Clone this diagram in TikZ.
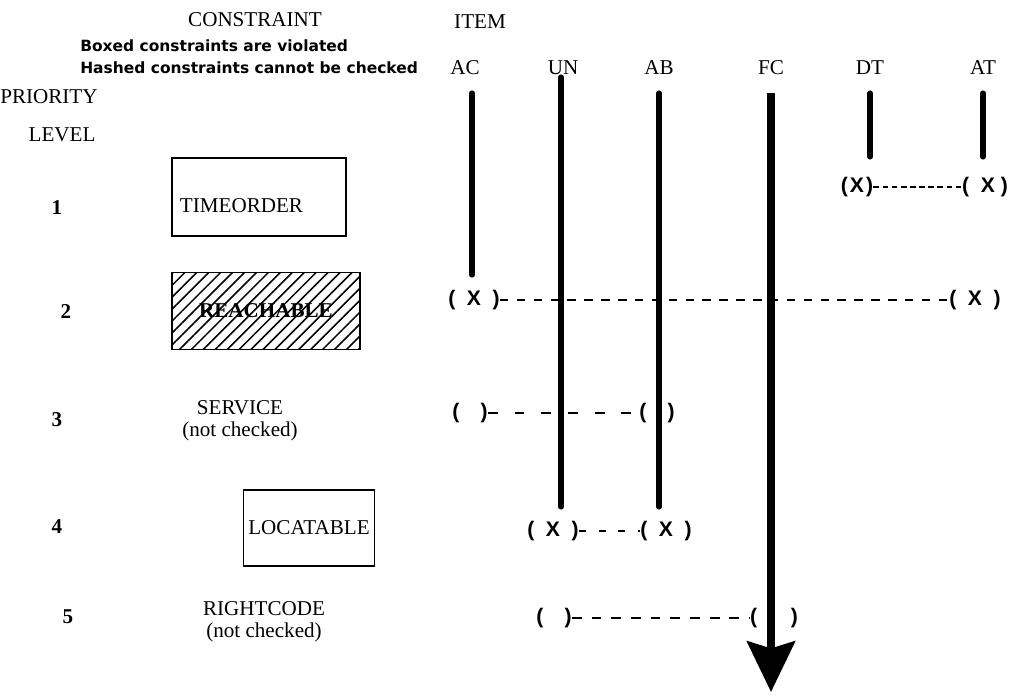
\documentclass[tikz,border=0pt]{standalone}
\usepackage{fontspec}
\setmainfont{Liberation Serif}
\newfontfamily\marksf{Liberation Sans}
\newfontfamily\notesf{DejaVu Sans}
\usetikzlibrary{arrows.meta, patterns.meta}

\begin{document}
\begin{tikzpicture}[
    x=0.025cm, y=-0.025cm,
    head/.style={font=\fontsize{15}{17}\selectfont},
    note/.style={font=\notesf\bfseries\fontsize{11}{13}\selectfont, anchor=west, inner sep=0pt},
    lvl/.style={font=\bfseries\fontsize{15}{17}\selectfont},
    cons/.style={font=\fontsize{15}{16}\selectfont, align=center},
    consbox/.style={draw, line width=1pt, minimum height=1.95cm,
                    font=\fontsize{15}{17}\selectfont},
    col/.style={line width=3.6pt, line cap=round},
    tag/.style={font=\marksf\bfseries\fontsize{15}{17}\selectfont, inner sep=0pt},
    link/.style={line width=1.4pt, dash pattern=on 6pt off 6pt},
  ]
    \useasboundingbox (0,0) rectangle (1031,696);

    % headings
    \node[head] (constraint) at (255,20) {CONSTRAINT};
    \node[head] (item) at (480,22) {ITEM};
    \node[note] (boxednote) at (80,46) {Boxed constraints are violated};
    \node[note] (hashnote) at (80,68) {Hashed constraints cannot be checked};
    \node[head, anchor=west, inner sep=0pt] (priority) at (0,97) {PRIORITY};
    \node[head] (level) at (62,135) {LEVEL};

    % item columns
    \node[head] (lblAC) at (465,68) {AC};
    \node[head] (lblUN) at (563,68) {UN};
    \node[head] (lblAB) at (659,68) {AB};
    \node[head] (lblFC) at (771,68) {FC};
    \node[head] (lblDT) at (870,68) {DT};
    \node[head] (lblAT) at (983,68) {AT};

    \coordinate (acTop) at (472,93);  \coordinate (acBot) at (472,275);
    \coordinate (unTop) at (561,77);  \coordinate (unBot) at (561,507);
    \coordinate (abTop) at (659,93);  \coordinate (abBot) at (659,507);
    \coordinate (fcTop) at (771,93);  \coordinate (fcTip) at (771,692);
    \coordinate (dtTop) at (870,93);  \coordinate (dtBot) at (870,157);
    \coordinate (atTop) at (983,93);  \coordinate (atBot) at (983,157);

    \draw[col] (acTop) -- (acBot);
    \draw[col] (unTop) -- (unBot);
    \draw[col] (abTop) -- (abBot);
    \draw[col] (dtTop) -- (dtBot);
    \draw[col] (atTop) -- (atBot);
    \draw[line width=5.6pt, -{Stealth[length=36pt, width=34pt, inset=5pt]}]
      (fcTop) -- (fcTip);

    % priority levels
    \node[lvl] (lev1) at (57,208) {1};
    \node[lvl] (lev2) at (66,312) {2};
    \node[lvl] (lev3) at (57,420) {3};
    \node[lvl] (lev4) at (57,527) {4};
    \node[lvl] (lev5) at (68,617) {5};

    % constraints
    \node[consbox, minimum width=4.35cm, text width=3.95cm, inner xsep=0.2cm,
          align=left, text height=0.75cm, text depth=0pt]
      (timeorder) at (259,197) {TIMEORDER};
    \node[consbox, minimum width=4.7cm, minimum height=1.925cm,
          pattern={Lines[angle=45, distance=6pt, line width=1.1pt]}]
      (reachable) at (266,311) {\bfseries REACHABLE};
    \node[cons] (service) at (240,421) {SERVICE\\(not checked)};
    \node[consbox, minimum width=2.85cm, minimum height=1.9cm]
      (locatable) at (309,528) {LOCATABLE};
    \node[cons] (rightcode) at (264,622) {RIGHTCODE\\(not checked)};

    % level 1
    \node[tag] (r1a) at (857,187) {(\kern1.5pt X\kern1.5pt)};
    \node[tag] (r1b) at (985,187) {(\ \ X\ )};
    \draw[link, dash pattern=on 4pt off 2.5pt] (r1a) -- (r1b);

    % level 2
    \node[tag] (r2a) at (474,300) {(\hspace{0.55em}X\hspace{0.55em})};
    \node[tag] (r2b) at (975,300) {(\hspace{0.55em}X\hspace{0.55em})};
    \draw[link] (r2a) -- (r2b);

    % level 3
    \node[tag] (r3a) at (470,413) {(\hspace{1em})};
    \node[tag] (r3b) at (657,413) {(\hspace{1em})};
    \draw[link, dash pattern=on 7pt off 12pt] (r3a) -- (r3b);

    % level 4
    \node[tag] (r4a) at (553,531) {(\hspace{0.55em}X\hspace{0.55em})};
    \node[tag] (r4b) at (666,531) {(\hspace{0.55em}X\hspace{0.55em})};
    \draw[link, dash pattern=on 5pt off 9pt] (r4a) -- (r4b);

    % level 5
    \node[tag] (r5a) at (554,618) {(\hspace{1em})};
    \node[tag] (r5b) at (774,618) {(\hspace{1.6em})};
    \draw[link, dash pattern=on 7pt off 7pt] (r5a) -- (r5b);
  \end{tikzpicture}
\end{document}
